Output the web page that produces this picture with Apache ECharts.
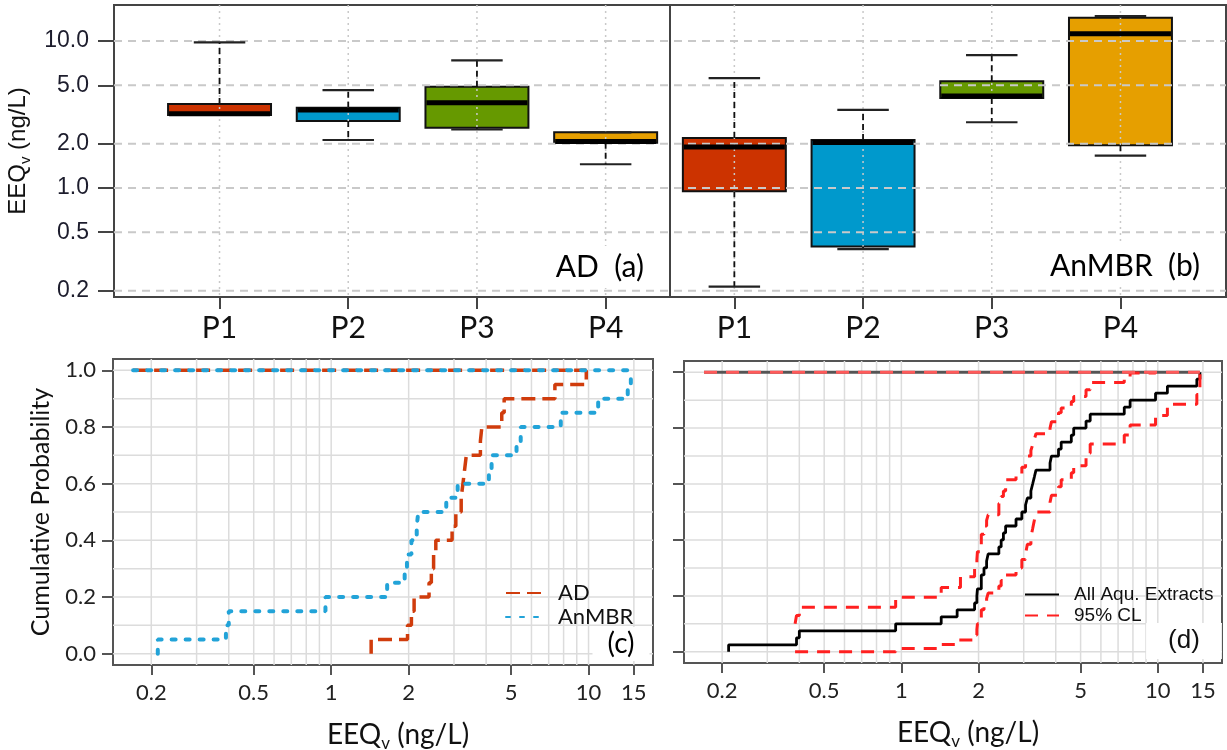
<!DOCTYPE html>
<html><head><meta charset="utf-8">
<script src="https://cdn.jsdelivr.net/npm/echarts@6/dist/echarts.min.js"></script>
<style>html,body{margin:0;padding:0;background:#fff}#c{width:1227px;height:750px}</style>
</head><body><div id="c"></div>
<script>
// ---------------- data ----------------
// (a)/(b) box plots, positions 1-4 = AD, 5-8 = AnMBR
const boxLabels = ['P1','P2','P3','P4','P1','P2','P3','P4'];
const boxPos    = [1, 2, 3, 4, 5, 6, 7, 8];
const boxLow    = [3.14, 2.12, 2.50, 1.45, 0.213, 0.383, 2.80, 1.66];
const boxQ1     = [3.14, 2.86, 2.57, 2.03, 0.95, 0.40, 4.10, 1.95];
const boxMed    = [3.20, 3.40, 3.80, 2.07, 1.90, 2.04, 4.22, 11.2];
const boxQ3     = [3.73, 3.52, 4.89, 2.39, 2.19, 2.12, 5.32, 14.4];
const boxHigh   = [9.80, 4.64, 7.39, 2.39, 5.60, 3.40, 8.03, 14.8];
const boxColors = ['#CC3300','#0099CC','#669900','#E69F00','#CC3300','#0099CC','#669900','#E69F00'];
const topTicks  = [0.2, 0.5, 1, 2, 5, 10];
const panelDivider = [4.5];

// (c) ECDFs
const adX = [1.43, 1.98, 2.05, 2.10, 2.40, 2.45, 2.50, 2.55, 2.95, 3.05, 3.20, 3.25, 3.30, 3.35, 3.80, 3.85, 4.60, 4.70, 7.40, 9.80];
const adP = [0.05, 0.10, 0.15, 0.20, 0.25, 0.30, 0.35, 0.40, 0.45, 0.50, 0.55, 0.60, 0.65, 0.70, 0.75, 0.80, 0.85, 0.90, 0.95, 1.00];
const anX = [0.212, 0.39, 0.40, 0.95, 1.65, 1.93, 1.97, 2.05, 2.15, 2.18, 2.80, 3.10, 4.10, 4.20, 5.25, 5.45, 7.80, 10.9, 14.2, 14.6];
const anP = [0.05, 0.10, 0.15, 0.20, 0.25, 0.30, 0.35, 0.40, 0.45, 0.50, 0.55, 0.60, 0.65, 0.70, 0.75, 0.80, 0.85, 0.90, 0.95, 1.00];
const topLineStart = 0.17;

// (d) all extracts + 95% confidence limits
const allX = [0.212, 0.39, 0.40, 0.95, 1.43, 1.65, 1.93, 1.97, 1.98, 2.05, 2.05, 2.10, 2.15, 2.18, 2.40, 2.45, 2.50, 2.55, 2.80, 2.95,
              3.05, 3.10, 3.20, 3.25, 3.30, 3.35, 3.80, 3.85, 4.10, 4.20, 4.60, 4.70, 5.25, 5.45, 7.40, 7.80, 9.80, 10.9, 14.2, 14.6];
const allP = [0.025, 0.05, 0.075, 0.10, 0.125, 0.15, 0.175, 0.20, 0.225, 0.25, 0.275, 0.30, 0.325, 0.35, 0.375, 0.40, 0.425, 0.45, 0.475, 0.50,
              0.525, 0.55, 0.575, 0.60, 0.625, 0.65, 0.675, 0.70, 0.725, 0.75, 0.775, 0.80, 0.825, 0.85, 0.875, 0.90, 0.925, 0.95, 0.975, 1.00];
const upperX = [0.385, 0.39, 0.40, 0.95, 1.43, 1.70, 1.93, 1.97, 1.98, 2.05, 2.05, 2.10, 2.15, 2.18, 2.40, 2.45, 2.50, 2.55, 2.80,
                2.95, 3.05, 3.10, 3.20, 3.25, 3.30, 3.35, 3.80, 3.85, 4.10, 4.20, 4.60, 4.70, 5.25, 5.45, 7.40, 7.80, 9.80];
const upperP = [0.10, 0.13, 0.159, 0.195, 0.23, 0.268, 0.30, 0.33, 0.358, 0.40, 0.42, 0.45, 0.47, 0.49, 0.53, 0.555, 0.575, 0.615, 0.635,
                0.66, 0.68, 0.70, 0.72, 0.74, 0.76, 0.78, 0.80, 0.823, 0.855, 0.872, 0.895, 0.913, 0.937, 0.963, 0.98, 0.997, 1.00];
const lowerX = [0.385, 0.95, 1.43, 1.65, 1.93, 1.97, 1.98, 2.05, 2.05, 2.10, 2.15, 2.18, 2.40, 2.45, 2.55, 2.80, 2.95, 3.05, 3.10,
                3.20, 3.25, 3.30, 3.35, 3.80, 3.85, 4.10, 4.20, 4.60, 4.70, 5.25, 5.45, 7.40, 7.80, 9.80, 10.9, 14.2, 14.6];
const lowerP = [0.0, 0.012, 0.026, 0.042, 0.06, 0.08, 0.10, 0.13, 0.15, 0.17, 0.19, 0.21, 0.235, 0.255, 0.275, 0.30, 0.33, 0.35, 0.385,
                0.41, 0.44, 0.47, 0.50, 0.535, 0.56, 0.59, 0.615, 0.64, 0.665, 0.71, 0.743, 0.775, 0.811, 0.845, 0.885, 0.92, 1.00];
const cdfTicks  = [0.2, 0.5, 1, 2, 5, 10, 15];
const cdfGridX  = [0.2, 0.3, 0.4, 0.5, 0.6, 0.7, 0.8, 0.9, 1, 2, 3, 4, 5, 6, 7, 8, 9, 10, 15];
const cdfGridY  = [0, 0.1, 0.2, 0.3, 0.4, 0.5, 0.6, 0.7, 0.8, 0.9, 1.0];
const probTicks = [0, 0.2, 0.4, 0.6, 0.8, 1.0];

// ---------------- styles ----------------
const FONT_C = 'Lato, "Open Sans", sans-serif';
const FONT_A = '"Liberation Sans", Arial, sans-serif';
const C_AD = '#D03C0C', C_AN = '#22A3D8', C_CL = '#FF2020';
const BOX_HALF = 0.4, CAP_HALF = 0.2;

function zip(xs, ps) { return xs.map((x, i) => [x, ps[i]]); }
function hLines(gridIdx, values, anchorX, style, z) {
  return { type: 'custom', xAxisIndex: gridIdx, yAxisIndex: gridIdx, silent: true, z: z,
    data: values.map(v => [anchorX, v]),
    renderItem: (params, api) => {
      const cs = params.coordSys; const yy = api.coord([api.value(0), api.value(1)])[1];
      return { type: 'line', shape: { x1: cs.x, y1: yy, x2: cs.x + cs.width, y2: yy }, style: style };
    } };
}
function vLines(gridIdx, values, anchorY, style, z) {
  return { type: 'custom', xAxisIndex: gridIdx, yAxisIndex: gridIdx, silent: true, z: z,
    data: values.map(v => [v, anchorY]),
    renderItem: (params, api) => {
      const cs = params.coordSys; const xx = api.coord([api.value(0), api.value(1)])[0];
      return { type: 'line', shape: { x1: xx, y1: cs.y, x2: xx, y2: cs.y + cs.height }, style: style };
    } };
}
function boxGeom(api) {
  const p = api.value(0), lo = api.value(1), q1 = api.value(2), md = api.value(3), q3 = api.value(4), hi = api.value(5);
  const X = v => api.coord([v, md])[0];
  const Y = v => api.coord([p, v])[1];
  return { xl: X(p - BOX_HALF), xr: X(p + BOX_HALF), xc: X(p), cl: X(p - CAP_HALF), cr: X(p + CAP_HALF),
           yLo: Y(lo), yQ1: Y(q1), yMd: Y(md), yQ3: Y(q3), yHi: Y(hi) };
}
function renderBoxBody(params, api) {
  const g = boxGeom(api);
  return { type: 'rect', shape: { x: g.xl, y: g.yQ3, width: g.xr - g.xl, height: g.yQ1 - g.yQ3 },
           style: { fill: boxColors[params.dataIndex], stroke: '#111', lineWidth: 2 } };
}
function renderBoxLines(params, api) {
  const g = boxGeom(api);
  const wS = { stroke: '#111', lineWidth: 1.8, lineDash: [6, 4] };
  const cS = { stroke: '#222', lineWidth: 2.2 };
  return { type: 'group', children: [
    { type: 'line', shape: { x1: g.xc, y1: g.yQ3, x2: g.xc, y2: g.yHi }, style: wS },
    { type: 'line', shape: { x1: g.xc, y1: g.yQ1, x2: g.xc, y2: g.yLo }, style: wS },
    { type: 'line', shape: { x1: g.cl, y1: g.yHi, x2: g.cr, y2: g.yHi }, style: cS },
    { type: 'line', shape: { x1: g.cl, y1: g.yLo, x2: g.cr, y2: g.yLo }, style: cS },
    { type: 'line', shape: { x1: g.xl + 1, y1: g.yMd, x2: g.xr - 1, y2: g.yMd }, style: { stroke: '#000', lineWidth: 5 } }
  ] };
}
const subRich = (ff, fs, lh) => ({ s: { fontFamily: ff, fontSize: fs, color: '#111', verticalAlign: 'bottom', lineHeight: lh } });
const numFmt = v => String(+(+v).toPrecision(3));

const gridTopH = { stroke: '#c9c9c9', lineWidth: 2, lineDash: [8, 6] };
const gridTopV = { stroke: '#c9c9c9', lineWidth: 1.5, lineDash: [2, 4] };
const gridCdf  = { stroke: '#dcdcdc', lineWidth: 1.5 };

function logX(gridIdx) {
  return { gridIndex: gridIdx, type: 'log', logBase: 10, min: 0.142, max: 17.8,
    axisLine: { show: false, onZero: false }, splitLine: { show: false },
    axisTick: { show: true, customValues: cdfTicks, length: 10, lineStyle: { color: '#555', width: 2 } },
    axisLabel: { customValues: cdfTicks, formatter: numFmt, fontFamily: FONT_C, fontSize: 22, color: '#222', margin: 17 },
    name: 'EEQ{s|v} (ng/L)', nameLocation: 'middle', nameGap: 53,
    nameTextStyle: { fontFamily: FONT_C, fontSize: 28, color: '#111', lineHeight: 34, padding: [0, 0, 0, 30], rich: subRich(FONT_C, 17, 34) } };
}
function probY(gridIdx, showLabels) {
  return { gridIndex: gridIdx, type: 'value', min: -0.04, max: 1.04,
    axisLine: { show: false, onZero: false }, splitLine: { show: false },
    axisTick: { show: true, customValues: probTicks, length: 11, lineStyle: { color: '#555', width: 2 } },
    axisLabel: { show: showLabels, customValues: probTicks, formatter: v => (+v).toFixed(1), fontFamily: FONT_C, fontSize: 22, color: '#222', margin: 17 },
    name: showLabels ? 'Cumulative Probability' : '', nameLocation: 'middle', nameGap: 60,
    nameTextStyle: { fontFamily: FONT_C, fontSize: 25, color: '#111' } };
}

const option = {
  animation: false,
  backgroundColor: '#fff',
  textStyle: { fontFamily: FONT_C },
  grid: [
    { left: 114, top: 5, width: 1112, height: 292, show: true, borderColor: '#444', borderWidth: 2, outerBoundsMode: 'none', containLabel: false },
    { left: 113, top: 359, width: 540, height: 306, show: true, borderColor: '#555', borderWidth: 2, outerBoundsMode: 'none', containLabel: false },
    { left: 684, top: 361, width: 538, height: 302, show: true, borderColor: '#555', borderWidth: 2, outerBoundsMode: 'none', containLabel: false }
  ],
  xAxis: [
    { gridIndex: 0, type: 'value', min: 0.18, max: 8.82,
      axisLine: { show: false, onZero: false }, splitLine: { show: false },
      axisTick: { show: true, customValues: boxPos, length: 12, lineStyle: { color: '#444', width: 2 } },
      axisLabel: { customValues: boxPos, formatter: v => boxLabels[Math.round(v) - 1], fontFamily: FONT_C, fontSize: 30, color: '#111', margin: 16 } },
    logX(1), logX(2)
  ],
  yAxis: [
    { gridIndex: 0, type: 'log', logBase: 10, min: 0.181, max: 17.6,
      axisLine: { show: false, onZero: false }, splitLine: { show: false },
      axisTick: { show: true, customValues: topTicks, length: 16, lineStyle: { color: '#444', width: 2 } },
      axisLabel: { customValues: topTicks, formatter: v => (+v).toFixed(1), fontFamily: FONT_A, fontSize: 23, color: '#1c1c2c', margin: 25 },
      name: 'EEQ{s|v} (ng/L)', nameLocation: 'middle', nameGap: 76,
      nameTextStyle: { fontFamily: FONT_A, fontSize: 24, color: '#111', lineHeight: 30, rich: subRich(FONT_A, 15, 30) } },
    probY(1, true), probY(2, false)
  ],
  legend: [
    { data: ['AD', 'AnMBR'], orient: 'vertical', left: 500, top: 576, itemWidth: 37, itemHeight: 12, itemGap: 0, selectedMode: false,
      itemStyle: { opacity: 0 },
      textStyle: { fontFamily: FONT_C, fontSize: 22, color: '#111', lineHeight: 24, padding: [0, 0, 0, 10] } },
    { data: ['All Aqu. Extracts', '95% CL'], orient: 'vertical', left: 1019, top: 579, itemWidth: 34, itemHeight: 12, itemGap: 0, selectedMode: false,
      itemStyle: { opacity: 0 },
      textStyle: { fontFamily: FONT_A, fontSize: 19, color: '#111', lineHeight: 21, padding: [0, 0, 0, 10] } }
  ],
  graphic: [
    { type: 'text', x: 648, y: 267, z: 100, style: { text: 'AD  (a)', align: 'right', verticalAlign: 'middle', font: '30px Lato', fill: '#000', backgroundColor: '#fff', padding: [6, 4, 6, 8] } },
    { type: 'text', x: 1204, y: 266, z: 100, style: { text: 'AnMBR  (b)', align: 'right', verticalAlign: 'middle', font: '30px Lato', fill: '#000', backgroundColor: '#fff', padding: [6, 4, 6, 8] } },
    { type: 'text', x: 621, y: 644, z: 100, style: { text: '(c)', align: 'center', verticalAlign: 'middle', font: '28px Lato', fill: '#000', backgroundColor: '#fff', padding: [3, 15] } },
    { type: 'text', x: 1184, y: 641, z: 100, style: { text: '(d)', align: 'center', verticalAlign: 'middle', font: '26px "Liberation Sans"', fill: '#111', backgroundColor: '#fff', padding: [5, 22] } }
  ],
  series: [
    // ---- (a)/(b)
    { type: 'custom', xAxisIndex: 0, yAxisIndex: 0, z: 2, silent: true,
      dimensions: ['pos', 'lo', 'q1', 'md', 'q3', 'hi'], encode: { x: 'pos', y: ['lo', 'q1', 'md', 'q3', 'hi'] },
      data: boxPos.map((p, i) => [p, boxLow[i], boxQ1[i], boxMed[i], boxQ3[i], boxHigh[i]]),
      renderItem: renderBoxBody },
    hLines(0, topTicks, 1, gridTopH, 10),
    vLines(0, boxPos, 1, gridTopV, 10),
    { type: 'custom', xAxisIndex: 0, yAxisIndex: 0, z: 12, silent: true,
      dimensions: ['pos', 'lo', 'q1', 'md', 'q3', 'hi'], encode: { x: 'pos', y: ['lo', 'q1', 'md', 'q3', 'hi'] },
      data: boxPos.map((p, i) => [p, boxLow[i], boxQ1[i], boxMed[i], boxQ3[i], boxHigh[i]]),
      renderItem: renderBoxLines },
    vLines(0, panelDivider, 1, { stroke: '#444', lineWidth: 2 }, 13),
    // ---- (c)
    hLines(1, cdfGridY, 1, gridCdf, 1),
    vLines(1, cdfGridX, 0.5, gridCdf, 1),
    { name: 'AD-top', type: 'line', xAxisIndex: 1, yAxisIndex: 1, symbol: 'none', silent: true, z: 4,
      data: [[topLineStart, 1], [adX[adX.length - 1], 1]], lineStyle: { color: C_AD, width: 3.5, type: [14, 7] } },
    { name: 'AnMBR-top', type: 'line', xAxisIndex: 1, yAxisIndex: 1, symbol: 'none', silent: true, z: 5,
      data: [[topLineStart, 1], [anX[anX.length - 1], 1]], lineStyle: { color: C_AN, width: 4, type: [4, 10], cap: 'round' } },
    { name: 'AD', type: 'line', xAxisIndex: 1, yAxisIndex: 1, step: 'end', symbol: 'none', showSymbol: false, silent: true, z: 4, color: C_AD,
      data: [[adX[0], 0]].concat(zip(adX, adP)), lineStyle: { color: C_AD, width: 3.5, type: [14, 7] } },
    { name: 'AnMBR', type: 'line', xAxisIndex: 1, yAxisIndex: 1, step: 'end', symbol: 'none', showSymbol: false, silent: true, z: 5, color: C_AN,
      data: [[anX[0], 0]].concat(zip(anX, anP)), lineStyle: { color: C_AN, width: 4, type: [4, 10], cap: 'round' } },
    // ---- (d)
    hLines(2, cdfGridY, 1, gridCdf, 1),
    vLines(2, cdfGridX, 0.5, gridCdf, 1),
    { name: 'All-top', type: 'line', xAxisIndex: 2, yAxisIndex: 2, symbol: 'none', silent: true, z: 4,
      data: [[topLineStart, 1], [allX[allX.length - 1], 1]], lineStyle: { color: '#555', width: 3 } },
    { name: 'All Aqu. Extracts', type: 'line', xAxisIndex: 2, yAxisIndex: 2, step: 'end', symbol: 'none', showSymbol: false, silent: true, z: 4, color: '#000',
      data: [[allX[0], 0]].concat(zip(allX, allP)), lineStyle: { color: '#000', width: 2.8 } },
    { name: '95% CL', type: 'line', xAxisIndex: 2, yAxisIndex: 2, step: 'end', symbol: 'none', showSymbol: false, silent: true, z: 5, color: C_CL,
      data: zip(upperX, upperP), lineStyle: { color: C_CL, width: 3, type: [13, 9] } },
    { name: '95% CL', type: 'line', xAxisIndex: 2, yAxisIndex: 2, step: 'end', symbol: 'none', showSymbol: false, silent: true, z: 5, color: C_CL,
      data: zip(lowerX, lowerP), lineStyle: { color: C_CL, width: 3, type: [13, 9] } },
    { name: 'CL-top', type: 'line', xAxisIndex: 2, yAxisIndex: 2, symbol: 'none', silent: true, z: 6,
      data: [[topLineStart, 1], [lowerX[lowerX.length - 1], 1]], lineStyle: { color: '#FF5A5A', width: 3, type: [13, 9] } }
  ]
};
const chart = echarts.init(document.getElementById('c'), null, { renderer: 'canvas' });
chart.setOption(option);
</script>
</body></html>
